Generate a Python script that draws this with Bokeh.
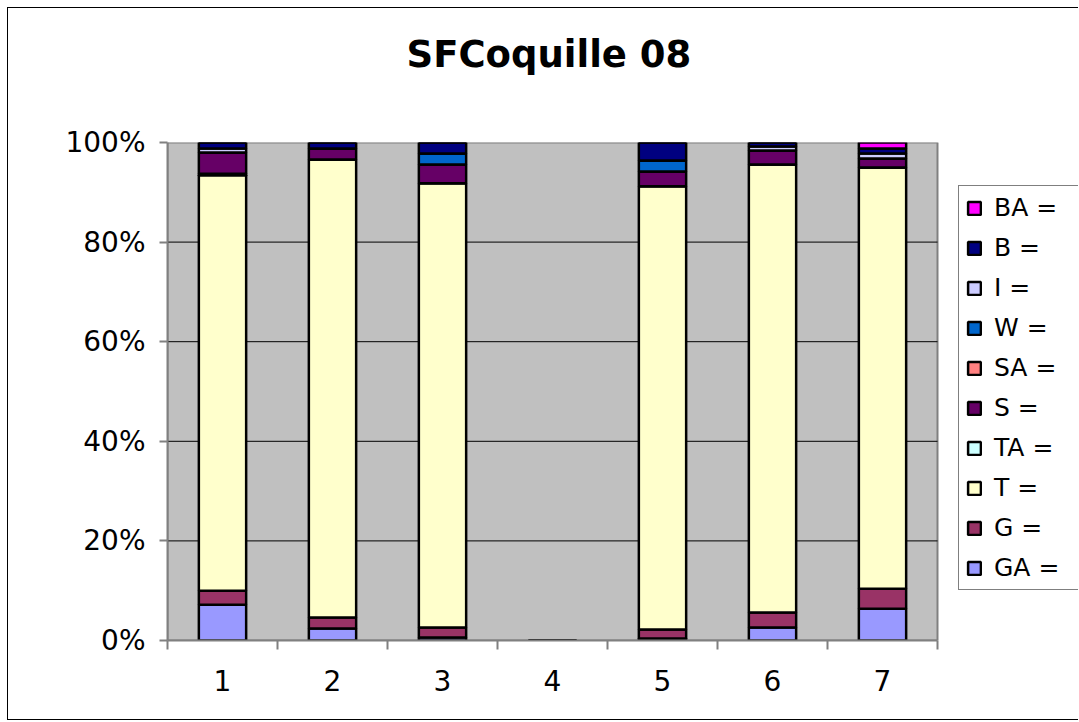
from bokeh.plotting import figure
from bokeh.models import FixedTicker, PrintfTickFormatter, Legend, LegendItem, ColumnDataSource, Title
from bokeh.embed import file_html
from bokeh.resources import INLINE

categories = ["1", "2", "3", "4", "5", "6", "7"]
series_names = ["GA", "G", "T", "TA", "S", "SA", "W", "I", "B", "BA"]
GA = [7.2, 2.4, 0.6, 0, 0.4, 2.6, 6.4]
G = [2.8, 2.2, 2.0, 0, 1.8, 3.0, 4.0]
T = [83.4, 92.0, 89.2, 0, 89.0, 90.0, 84.6]
TA = [0.3, 0, 0, 0, 0, 0, 0]
S = [4.3, 2.2, 3.8, 0, 3.0, 2.8, 1.8]
SA = [0, 0, 0, 0, 0, 0, 0]
W = [0, 0, 2.2, 0, 2.2, 0, 0]
I = [0.8, 0, 0, 0, 0, 0.8, 1.0]
B = [1.2, 1.2, 2.2, 0, 3.6, 0.8, 1.0]
BA = [0, 0, 0, 0, 0, 0, 1.2]
colors = ["#9999FF", "#993366", "#FFFFCC", "#CCFFFF", "#660066",
          "#FF8080", "#0066CC", "#CCCCFF", "#000080", "#FF00FF"]
y_ticks = [0, 20, 40, 60, 80, 100]
chart_title = "SFCoquille 08"

n = len(categories)
data = {"x": list(range(1, n + 1))}
for name, vals in zip(series_names, [GA, G, T, TA, S, SA, W, I, B, BA]):
    data[name] = vals
source = ColumnDataSource(data)

FONT = "DejaVu Sans"
X_LO, X_HI = 0.5, n + 0.5
PLOT_W = 770.0
FRAME_W = 911
# frame extends right to leave room for the legend inside the canvas
X_END = X_LO + (X_HI - X_LO) * FRAME_W / PLOT_W

p = figure(frame_width=FRAME_W, frame_height=498, x_range=(X_LO, X_END), y_range=(0, 100),
           output_backend="svg", toolbar_location=None, tools="",
           min_border_left=159, min_border_top=134, min_border_right=0,
           min_border_bottom=79)
p.styles = {"border-left": "1px solid black", "border-top": "1px solid black",
            "border-bottom": "1px solid black", "margin": "7px 0px 0px 7px"}
p.background_fill_color = "white"
p.border_fill_color = "white"
p.outline_line_color = None

spacer = Title(text=" ", text_font_size="52px", standoff=0, text_font=FONT)
p.add_layout(spacer, "above")
title = Title(text=chart_title, align="left", offset=239, text_font=FONT,
              text_font_size="37px", text_font_style="bold", text_color="black",
              standoff=10)
p.add_layout(title, "above")

# plot area (grey) and gridlines
p.quad(left=[X_LO], right=[X_HI], bottom=[y_ticks[0]], top=[y_ticks[-1]],
       fill_color="#C0C0C0", line_color="#808080", line_width=2)
grid_y = y_ticks[1:-1]
p.segment(x0=[X_LO] * len(grid_y), x1=[X_HI] * len(grid_y), y0=grid_y, y1=grid_y,
          line_color="black", line_width=1)

renderers = p.vbar_stack(series_names, x="x", width=0.43, source=source,
                         fill_color=colors, line_color="black", line_width=2.5)

# axes
p.xaxis.bounds = (X_LO, X_HI)
p.xaxis.ticker = FixedTicker(ticks=data["x"],
                             minor_ticks=[i + 0.5 for i in range(0, n + 1)])
p.xaxis.major_label_overrides = {i + 1: c for i, c in enumerate(categories)}
p.xaxis.major_tick_out = 0
p.xaxis.major_tick_in = 0
p.xaxis.minor_tick_out = 9
p.xaxis.minor_tick_in = 0
p.xaxis.minor_tick_line_color = "#808080"
p.xaxis.minor_tick_line_width = 2
p.xaxis.axis_line_color = "#808080"
p.xaxis.axis_line_width = 2
p.xaxis.major_label_text_font = FONT
p.xaxis.major_label_text_font_size = "28px"
p.xaxis.major_label_text_color = "black"
p.xaxis.major_label_standoff = 20

p.yaxis.ticker = FixedTicker(ticks=y_ticks, minor_ticks=[])
p.yaxis.formatter = PrintfTickFormatter(format="%d%%")
p.yaxis.major_tick_out = 8
p.yaxis.major_tick_in = 0
p.yaxis.major_tick_line_color = "#808080"
p.yaxis.major_tick_line_width = 2
p.yaxis.axis_line_color = "#808080"
p.yaxis.axis_line_width = 2
p.yaxis.major_label_text_font = FONT
p.yaxis.major_label_text_font_size = "28px"
p.yaxis.major_label_text_color = "black"
p.yaxis.major_label_standoff = 14

p.xgrid.visible = False
p.ygrid.visible = False

items = [LegendItem(label=f"{s} =", renderers=[r])
         for s, r in zip(series_names, renderers)][::-1]
legend = Legend(items=items, location=(791, 50), orientation="vertical",
                label_text_font=FONT, label_text_font_size="25px", label_text_color="black",
                glyph_width=16, glyph_height=16, label_height=28, label_width=100,
                spacing=11, padding=7, margin=0, label_standoff=12,
                border_line_color="black", border_line_width=1,
                background_fill_color="white", background_fill_alpha=1)
p.add_layout(legend, "center")

open("out.html", "w").write(file_html(p, INLINE))
